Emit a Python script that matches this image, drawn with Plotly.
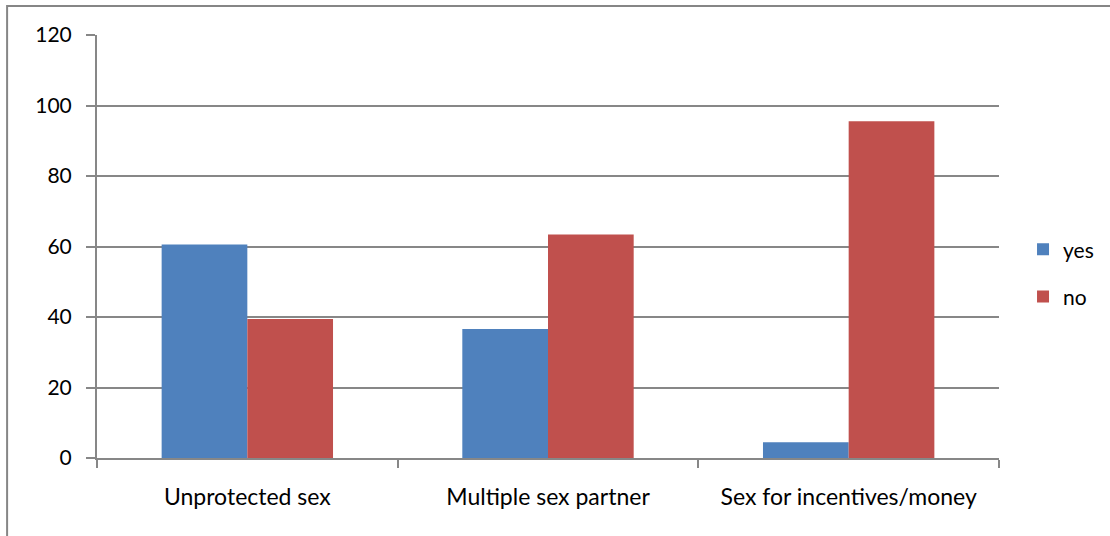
import plotly.graph_objects as go

categories = ["Unprotected sex", "Multiple sex partner", "Sex for incentives/money"]
yes_values = [60.6, 36.6, 4.5]
no_values = [39.4, 63.4, 95.5]
y_ticks = [0, 20, 40, 60, 80, 100, 120]

GRID = "#878787"
FONT = "Lato, Liberation Sans, Arial, sans-serif"

fig = go.Figure()
fig.add_trace(go.Bar(name="yes", x=categories, y=yes_values,
                     marker=dict(color="#4F81BD", line=dict(width=0)), legendgroup="a"))
fig.add_trace(go.Bar(name="no", x=categories, y=no_values,
                     marker=dict(color="#C0504D", line=dict(width=0)), legendgroup="b"))

fig.update_layout(
    width=1110, height=536,
    margin=dict(l=97, r=110, t=35, b=78),
    paper_bgcolor="white", plot_bgcolor="white",
    barmode="group", bargap=0.43, bargroupgap=0,
    font=dict(family=FONT, size=21, color="black"),
    showlegend=True,
    legend=dict(x=1.0255, y=0.437, yanchor="middle", xanchor="left",
                font=dict(size=21), tracegroupgap=17, bgcolor="rgba(0,0,0,0)"),
    xaxis=dict(showline=True, linecolor=GRID, linewidth=2, ticks="outside",
               tickson="boundaries", ticklen=8, tickcolor=GRID, tickwidth=2,
               showgrid=False, tickfont=dict(size=23), ticklabelstandoff=17),
    yaxis=dict(range=[0, 120], tickvals=y_ticks, showline=True, linecolor=GRID, linewidth=2,
               ticks="outside", ticklen=9, tickcolor=GRID, tickwidth=2,
               showgrid=True, gridcolor=GRID, gridwidth=2, zeroline=False,
               tickfont=dict(size=21), ticklabelstandoff=10),
    shapes=[dict(type="rect", xref="paper", yref="paper",
                 x0=(7 - 97) / 903, x1=1.2, y0=-0.3, y1=(458 - 6) / 423,
                 line=dict(color="#868686", width=2), layer="below")],
)

fig.write_html("out.html", config={"displayModeBar": False},
               post_script="document.body.style.margin='0px';")
